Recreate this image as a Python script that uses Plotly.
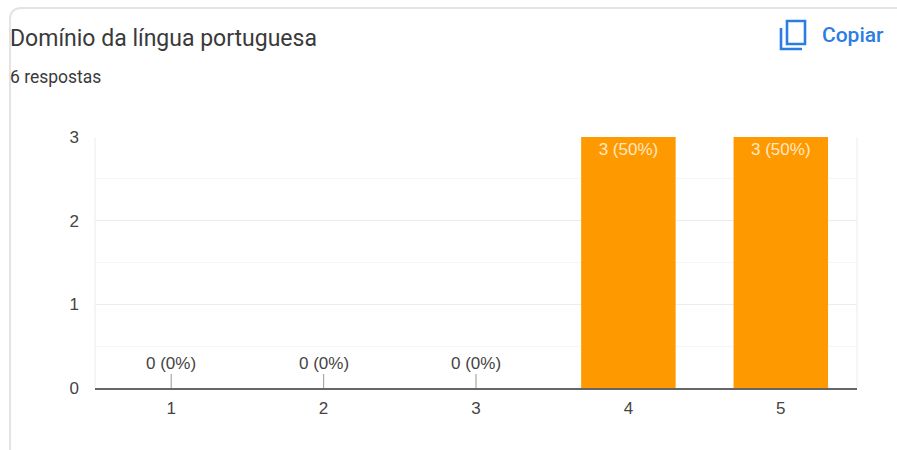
import plotly.graph_objects as go

# Form summary: answers per rating
categories = [1, 2, 3, 4, 5]
counts = [0, 0, 0, 3, 3]
y_ticks = [0, 1, 2, 3]

title_text = "Domínio da língua portuguesa"
subtitle_text = "6 respostas"
copy_text = "Copiar"

WIDTH, HEIGHT = 897, 450
LEFT, RIGHT, TOP, BOTTOM = 95, 40, 137, 62
BLUE = "#2b7de3"
TEXT = "#444444"

total = sum(counts)
labels = [f"{c} ({round(100 * c / total)}%)" for c in counts]


def px(x):
    return (x - LEFT) / (WIDTH - LEFT - RIGHT)


def py(y):
    return 1 - (y - TOP) / (HEIGHT - TOP - BOTTOM)


def path(points):
    return "M " + " L ".join(f"{px(x):.5f} {py(y):.5f}" for x, y in points)


fig = go.Figure(
    go.Bar(
        x=categories,
        y=counts,
        width=0.62,
        marker=dict(color="#ff9900", line=dict(width=0)),
        text=[t if c else "" for t, c in zip(labels, counts)],
        textposition="inside",
        insidetextanchor="end",
        textangle=0,
        insidetextfont=dict(family="Liberation Sans", size=17, color="#ffe8c6"),
        cliponaxis=False,
        hoverinfo="skip",
    )
)

# Zero-height bars carry their label on a short leader above the baseline
for cat, count, label in zip(categories, counts, labels):
    if count == 0:
        fig.add_annotation(
            x=cat, y=count, text=label, showarrow=True, arrowhead=0, arrowwidth=1.2,
            arrowcolor="#a8a8a8", ax=0, ay=-25, yanchor="middle",
            font=dict(family="Liberation Sans", size=17, color=TEXT),
        )

card_line = dict(color="#e4e4e4", width=2)
fig.update_layout(
    width=WIDTH,
    height=HEIGHT,
    autosize=False,
    margin=dict(l=LEFT, r=RIGHT, t=TOP, b=BOTTOM, pad=0),
    paper_bgcolor="white",
    plot_bgcolor="white",
    showlegend=False,
    bargap=0.38,
    xaxis=dict(
        range=[0.5, 5.5], tickmode="array", tickvals=categories, showgrid=False,
        showline=True, linecolor="#666666", linewidth=1.5, ticks="", zeroline=False,
        tickfont=dict(family="Liberation Sans", size=17, color=TEXT), ticklabelstandoff=4,
        fixedrange=True,
    ),
    yaxis=dict(
        range=[0, 3], tickmode="array", tickvals=y_ticks, showgrid=True,
        gridcolor="#ececec", gridwidth=1, zeroline=False, ticks="",
        tickfont=dict(family="Liberation Sans", size=17, color=TEXT), ticklabelstandoff=15,
        minor=dict(dtick=0.5, showgrid=True, gridcolor="#f5f5f5", gridwidth=1),
        fixedrange=True,
    ),
    shapes=[
        # Card outline: top edge and left edge meeting in a rounded corner
        dict(type="path", xref="paper", yref="paper", line=card_line,
             path=f"M {px(10):.5f} {py(450):.5f} L {px(10):.5f} {py(20):.5f} "
                  f"Q {px(10):.5f} {py(8):.5f} {px(22):.5f} {py(8):.5f} L {px(897):.5f} {py(8):.5f}"),
        # Plot frame on the right and left sides
        dict(type="line", xref="paper", yref="paper", x0=0, x1=0, y0=0, y1=1,
             line=dict(color="#ececec", width=1), layer="below"),
        dict(type="line", xref="paper", yref="paper", x0=1, x1=1, y0=0, y1=1,
             line=dict(color="#ececec", width=1), layer="below"),
        # Copy icon: front page and the corner of the page behind it
        dict(type="path", xref="paper", yref="paper", line=dict(color=BLUE, width=2.6),
             path=path([(787, 21), (805, 21), (805, 44), (787, 44)]) + " Z"),
        dict(type="path", xref="paper", yref="paper", line=dict(color=BLUE, width=2.6),
             path=path([(781, 28), (781, 49), (802, 49)])),
    ],
    annotations=list(fig.layout.annotations) + [
        dict(xref="paper", yref="paper", x=px(8), y=py(38.5), text=title_text, showarrow=False,
             xanchor="left", yanchor="middle", font=dict(family="Roboto", size=23, color="#3a3a3a")),
        dict(xref="paper", yref="paper", x=px(8), y=py(77), text=subtitle_text, showarrow=False,
             xanchor="left", yanchor="middle", font=dict(family="Roboto", size=17.5, color="#3a3a3a")),
        dict(xref="paper", yref="paper", x=px(820), y=py(35), text=copy_text, showarrow=False,
             xanchor="left", yanchor="middle",
             font=dict(family="Roboto", size=21, color=BLUE, weight=500)),
    ],
)

fig.write_html("out.html", config=dict(displayModeBar=False))
